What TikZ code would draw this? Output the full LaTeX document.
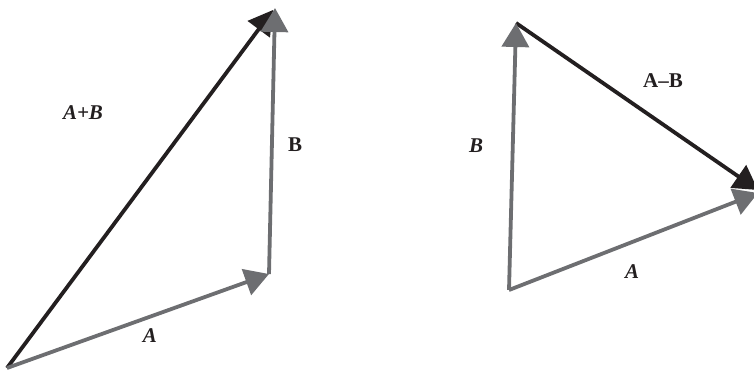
\documentclass[tikz,border=0pt]{standalone}
\usepackage{fontspec}
\setmainfont{Liberation Serif}
\usetikzlibrary{arrows.meta}
\definecolor{vgray}{HTML}{6D6E71}
\definecolor{vblack}{HTML}{231F20}
\tikzset{
  vec/.style={line width=3.8pt, -{Triangle[length=24pt,width=27pt]}},
  grayvec/.style={vec, draw=vgray, fill=vgray},
  blackvec/.style={vec, draw=vblack, fill=vblack},
  lbl/.style={font=\fontsize{21}{23}\selectfont\bfseries, inner sep=0pt, text=vblack},
}
\begin{document}
\begin{tikzpicture}[x=1pt,y=-1pt]
\useasboundingbox (0,0) rectangle (754,372);
% left
\coordinate (O1) at (7,368);
\coordinate (A1) at (269,274);
\coordinate (B1) at (275,8);
\draw[blackvec] (O1) -- (273,10) coordinate (S1);
\draw[grayvec] (O1) -- (A1);
\draw[grayvec] (A1) -- (B1);
\node[lbl] (lAB) at (83,113) {\itshape A+B};
\node[lbl] (lB1) at (295,145) {B};
\node[lbl] (lA1) at (150,336) {\itshape A};
% right
\coordinate (O2) at (509,290);
\coordinate (B2) at (516,23);
\coordinate (A2) at (758,193);
\draw[blackvec] (B2) -- (758,190) coordinate (D2);
\draw[grayvec] (O2) -- (A2);
\draw[grayvec] (O2) -- (B2);
\node[lbl] (lAmB) at (663,81) {A–B};
\node[lbl] (lB2) at (476,146) {\itshape B};
\node[lbl] (lA2) at (632,272) {\itshape A};
\end{tikzpicture}
\end{document}
